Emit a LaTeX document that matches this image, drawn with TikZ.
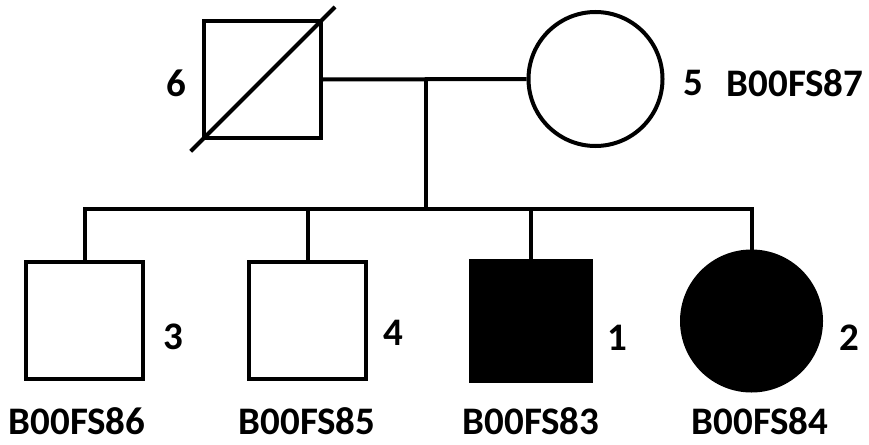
\documentclass[tikz,border=0pt]{standalone}
\usepackage{fontspec}
\setmainfont{Carlito}
\begin{document}
\begin{tikzpicture}[x=1pt,y=-1pt,
  ln/.style={line width=4pt,line cap=rect},
  male/.style={draw,line width=4pt,rectangle,minimum size=117pt,inner sep=0pt},
  female/.style={draw,line width=4pt,circle,inner sep=0pt},
  lbl/.style={font=\bfseries\fontsize{39}{39}\selectfont,inner sep=0pt,text depth=0pt}]
\useasboundingbox (0,0) rectangle (869,444);
% parents
\node[male] (f6) at (262.5,79.5) {};
\node[female,minimum size=134pt] (m5) at (595.5,79) {};
% children
\node[male] (c3) at (84.5,320.5) {};
\node[male] (c4) at (307.5,320.5) {};
\node[male,fill=black,minimum size=120pt] (c1) at (530.5,320.5) {};
\node[female,fill=black,minimum size=139pt] (c2) at (751.5,321) {};
% deceased slash
\draw[line width=4pt,shorten <=-16pt,shorten >=-17pt] (f6.south west) -- (f6.north east);
% marriage and descent
\coordinate (mid) at (426,80);
\coordinate (sib) at (426,209);
\draw[line width=4pt] (f6.east) -- (m5.west);
\draw[line width=4pt] (mid) -- (sib);
\draw[ln] (c3.north |- sib) -- (c2.north |- sib);
\draw[line width=4pt] (c3.north |- sib) -- (c3.north);
\draw[line width=4pt] (c4.north |- sib) -- (c4.north);
\draw[line width=4pt] (c1.north |- sib) -- (c1.north);
\draw[line width=4pt] (c2.north |- sib) -- (c2.north);
% labels
\node[lbl] (l6) at (176,83) {6};
\node[lbl] (l5) at (693,83) {5};
\node[lbl] (n5) at (795,83) {B00FS87};
\node[lbl] (l3) at (173,337) {3};
\node[lbl] (l4) at (393,333) {4};
\node[lbl] (l1) at (617,338) {1};
\node[lbl] (l2) at (849,338) {2};
\node[lbl] (n3) at (77,421) {B00FS86};
\node[lbl] (n4) at (307,421) {B00FS85};
\node[lbl] (n1) at (531,421) {B00FS83};
\node[lbl] (n2) at (760,421) {B00FS84};
\end{tikzpicture}
\end{document}
